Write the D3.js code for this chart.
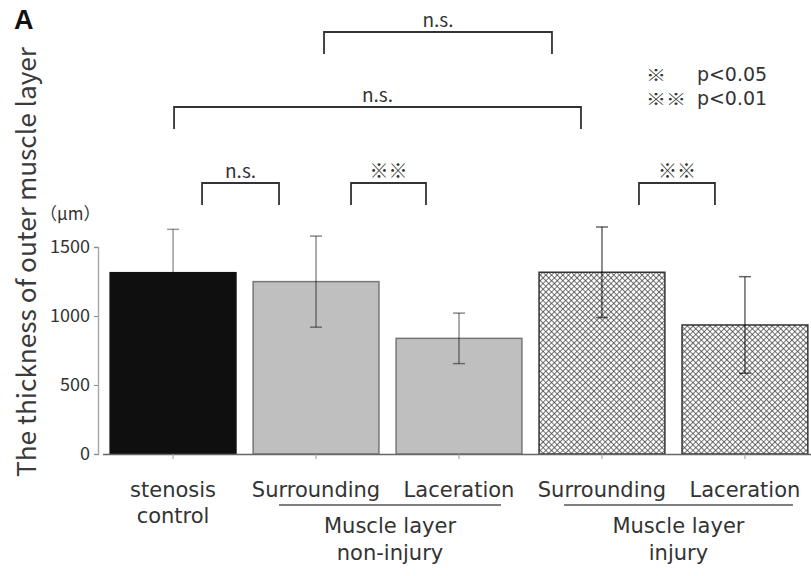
<!DOCTYPE html>
<html>
<head>
<meta charset="utf-8">
<script src="https://cdn.jsdelivr.net/npm/d3@7"></script>
<style>
  body { margin: 0; background: #fff; }
  svg { display: block; }
  text { font-family: "Noto Sans CJK JP", "Noto Sans", sans-serif; fill: #333; }
  .lab { font-family: "DejaVu Sans", "Noto Sans CJK JP", sans-serif; }
</style>
</head>
<body>
<svg id="chart" width="811" height="576"></svg>
<script>
// values
var categories = ["control", "nonSur", "nonLac", "injSur", "injLac"]
var tickLabels = [["stenosis", "control"], ["Surrounding"], ["Laceration"], ["Surrounding"], ["Laceration"]]
var means = [1314, 1249, 838, 1317, 935]
var sds = [314, 330, 183, 328, 350]
var yTicks = [0, 500, 1000, 1500]

var groupLabels = [["Muscle layer", "non-injury"], ["Muscle layer", "injury"]]
var groupMembers = [[1, 2], [3, 4]]

var compPairs = [[1, 3], [0, 3], [0, 1], [1, 2], [3, 4]]
var compLabels = ["n.s.", "n.s.", "n.s.", "※※", "※※"]

var legendMarks = ["※", "※※"]
var legendTexts = ["p<0.05", "p<0.01"]

var fills = ["#0f0f0f", "#bfbfbf", "#bfbfbf", "url(#xhatch)", "url(#xhatch)"]
var strokes = ["#111", "#777", "#777", "#333", "#333"]
// black bar hides its error bar, the others show it on top
var errOnTop = [false, true, true, true, true]
var errOpacity = [0.4, 0.45, 0.45, 0.6, 0.6]

var svg = d3.select("#chart")

var defs = svg.append("defs")
var pat = defs.append("pattern")
    .attr("id", "xhatch")
    .attr("patternUnits", "userSpaceOnUse")
    .attr("width", 4)
    .attr("height", 4)
    .attr("patternTransform", "rotate(45)")
pat.append("rect").attr("width", 4).attr("height", 4).attr("fill", "#fff")
pat.append("path")
    .attr("d", "M0,0H4M0,0V4")
    .attr("stroke", "#444")
    .attr("stroke-width", 1.5)

var x = d3.scaleBand()
    .domain(categories)
    .range([103, 815])
    .paddingInner(0.12)
    .paddingOuter(0.05)

var y = d3.scaleLinear()
    .domain([0, 1500])
    .range([454, 247])

function cx(i) {
    return x(categories[i]) + x.bandwidth() / 2
}

// y axis
var yAxis = svg.append("g")
    .attr("transform", "translate(98,0)")
    .call(d3.axisLeft(y).tickValues(yTicks).tickSize(4).tickPadding(4).tickFormat(d3.format("d")))
yAxis.select(".domain").attr("stroke", "#aaa").attr("stroke-width", 1.5)
yAxis.selectAll(".tick line").attr("stroke", "#888")
yAxis.selectAll(".tick text")
    .attr("fill", "#444")
    .style("font-size", "18px")
    .style("font-family", "'Noto Sans CJK JP', sans-serif")

function errLines(g, i) {
    var c = cx(i), m = means[i]
    g = g.append("g").attr("stroke-opacity", errOpacity[i])
    g.append("line")
        .attr("x1", c).attr("x2", c)
        .attr("y1", y(m + sds[i])).attr("y2", y(m - sds[i]))
    g.append("line")
        .attr("x1", c - 6).attr("x2", c + 6)
        .attr("y1", y(m + sds[i])).attr("y2", y(m + sds[i]))
    g.append("line")
        .attr("x1", c - 6).attr("x2", c + 6)
        .attr("y1", y(m - sds[i])).attr("y2", y(m - sds[i]))
}

var errBack = svg.append("g")
    .attr("stroke", "#000")
    .attr("stroke-width", 1.5)
means.forEach(function(m, i) { if (!errOnTop[i]) errLines(errBack, i) })

// bars
svg.append("g").selectAll("rect")
    .data(means)
    .enter()
    .append("rect")
    .attr("x", function(d, i) { return x(categories[i]) })
    .attr("y", function(d) { return y(d) })
    .attr("width", x.bandwidth())
    .attr("height", function(d) { return y(0) - y(d) })
    .attr("fill", function(d, i) { return fills[i] })
    .attr("stroke", function(d, i) { return strokes[i] })
    .attr("stroke-width", 1.5)

var errFront = svg.append("g")
    .attr("stroke", "#000")
    .attr("stroke-width", 1.5)
means.forEach(function(m, i) { if (errOnTop[i]) errLines(errFront, i) })

// x axis
var xAxis = svg.append("g")
    .attr("transform", "translate(0,454)")
    .call(d3.axisBottom(x).tickSize(5).tickFormat(""))
xAxis.select(".domain").attr("d", "M103,0.5H811").attr("stroke", "#666").attr("stroke-width", 1.5)
xAxis.selectAll(".tick line").attr("stroke", "#999")

// category labels (one text per label, lines as tspans)
var catLab = svg.append("g").attr("text-anchor", "middle").style("font-size", "21px")
tickLabels.forEach(function(lines, i) {
    var t = catLab.append("text").attr("class", "lab")
    lines.forEach(function(s, j) {
        t.append("tspan")
            .attr("x", cx(i))
            .attr("y", 497 + j * 26)
            .text(s)
    })
})

// group underline and labels
var groupSpan = [[-37, 42], [-38, 48]]
groupMembers.forEach(function(g, k) {
    var x1 = cx(g[0]) + groupSpan[k][0]
    var x2 = cx(g[1]) + groupSpan[k][1]
    svg.append("line")
        .attr("x1", x1).attr("x2", x2)
        .attr("y1", 505).attr("y2", 505)
        .attr("stroke", "#555")
        .attr("stroke-width", 1.3)
    var t = svg.append("text")
        .attr("class", "lab")
        .attr("text-anchor", "middle")
        .style("font-size", "21px")
    groupLabels[k].forEach(function(s, j) {
        t.append("tspan")
            .attr("x", (x1 + x2) / 2)
            .attr("y", 533 + j * 27)
            .text(s)
    })
})

// significance brackets
var compTop = [32, 107, 183, 183, 183]
var compOff = [[8, -50], [1, -21], [29, -37], [35, -33], [37, -30]]
compPairs.forEach(function(p, k) {
    var x1 = cx(p[0]) + compOff[k][0]
    var x2 = cx(p[1]) + compOff[k][1]
    var t = compTop[k]
    svg.append("path")
        .attr("d", "M" + x1 + "," + (t + 22) + "V" + t + "H" + x2 + "V" + (t + 22))
        .attr("fill", "none")
        .attr("stroke", "#333")
        .attr("stroke-width", 1.8)
    svg.append("text")
        .attr("x", (x1 + x2) / 2)
        .attr("y", t - 5)
        .attr("text-anchor", "middle")
        .style("font-size", "19px")
        .text(compLabels[k])
})

// legend as a single text block
var leg = svg.append("text")
legendMarks.forEach(function(m, k) {
    leg.append("tspan")
        .attr("x", 646).attr("y", 81 + k * 23.5)
        .style("font-size", "16px")
        .attr("textLength", 20 * m.length)
        .attr("lengthAdjust", "spacingAndGlyphs")
        .text(m)
    leg.append("tspan")
        .attr("class", "lab")
        .attr("x", 697).attr("y", 81 + k * 23.5)
        .style("font-size", "19px")
        .attr("textLength", 70)
        .text(legendTexts[k])
})

// y title and unit
svg.append("text")
    .attr("transform", "translate(36,262) rotate(-90)")
    .attr("text-anchor", "middle")
    .attr("textLength", 430)
    .attr("lengthAdjust", "spacingAndGlyphs")
    .style("font-size", "26px")
    .style("fill", "#3a3a3a")
    .text("The thickness of outer muscle layer")

svg.append("text")
    .attr("x", 40).attr("y", 220)
    .style("font-size", "17px")
    .text("（μm）")

svg.append("text")
    .attr("x", 14).attr("y", 29)
    .style("font-family", "'Liberation Sans', Arial, sans-serif")
    .style("font-weight", "bold")
    .style("font-size", "27px")
    .style("fill", "#111")
    .text("A")
</script>
</body>
</html>
